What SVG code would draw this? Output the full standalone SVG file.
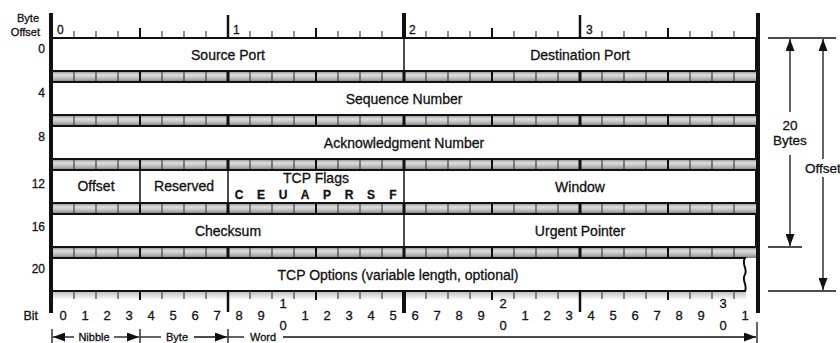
<svg xmlns="http://www.w3.org/2000/svg" xmlns:xlink="http://www.w3.org/1999/xlink" width="840" height="343" viewBox="0 0 840 343">
<defs>
<style>
text{font-family:"Liberation Sans",Arial,sans-serif;fill:#111;stroke:#111;stroke-width:0.3}
.lbl{font-size:14px;text-anchor:middle}
.sm{font-size:11px}
.rn{font-size:12px}
.off{font-size:12px;text-anchor:end}
.bit{font-size:13px;text-anchor:middle}
.row{fill:#fff;stroke:#111;stroke-width:2}
.div{stroke:#111;stroke-width:1.5}
.tb{stroke:#444;stroke-width:1.2}
.tn{stroke:#111;stroke-width:2}
.tB{stroke:#111;stroke-width:3}
.band{fill:url(#bg)}
.dim{stroke:#111;stroke-width:1.3;fill:none}
.arr{stroke:#111;stroke-width:1.3;fill:none}
</style>
<linearGradient id="bg" x1="0" y1="0" x2="0" y2="1">
<stop offset="0" stop-color="#8a8a8a"/>
<stop offset="0.35" stop-color="#dedede"/>
<stop offset="0.7" stop-color="#b8b8b8"/>
<stop offset="1" stop-color="#7a7a7a"/>
</linearGradient>
<linearGradient id="sh" x1="0" y1="0" x2="0" y2="1">
<stop offset="0" stop-color="#999"/>
<stop offset="1" stop-color="#fff"/>
</linearGradient>
<marker id="ah" viewBox="0 0 12 9" refX="12" refY="4.5" markerWidth="12" markerHeight="9" markerUnits="userSpaceOnUse" orient="auto">
<path d="M0,0 L12,4.5 L0,9 Z" fill="#111"/>
</marker>
<g id="bandTicks">
<line class="tb" x1="74" y1="0" x2="74" y2="11"/><line class="tb" x1="96" y1="0" x2="96" y2="11"/><line class="tb" x1="118" y1="0" x2="118" y2="11"/>
<line class="tn" x1="140" y1="0" x2="140" y2="11"/>
<line class="tb" x1="162" y1="0" x2="162" y2="11"/><line class="tb" x1="184" y1="0" x2="184" y2="11"/><line class="tb" x1="206" y1="0" x2="206" y2="11"/>
<line class="tB" x1="228" y1="0" x2="228" y2="11"/>
<line class="tb" x1="250" y1="0" x2="250" y2="11"/><line class="tb" x1="272" y1="0" x2="272" y2="11"/><line class="tb" x1="294" y1="0" x2="294" y2="11"/>
<line class="tn" x1="316" y1="0" x2="316" y2="11"/>
<line class="tb" x1="338" y1="0" x2="338" y2="11"/><line class="tb" x1="360" y1="0" x2="360" y2="11"/><line class="tb" x1="382" y1="0" x2="382" y2="11"/>
<line class="tB" x1="404" y1="0" x2="404" y2="11"/>
<line class="tb" x1="426" y1="0" x2="426" y2="11"/><line class="tb" x1="448" y1="0" x2="448" y2="11"/><line class="tb" x1="470" y1="0" x2="470" y2="11"/>
<line class="tn" x1="492" y1="0" x2="492" y2="11"/>
<line class="tb" x1="514" y1="0" x2="514" y2="11"/><line class="tb" x1="536" y1="0" x2="536" y2="11"/><line class="tb" x1="558" y1="0" x2="558" y2="11"/>
<line class="tB" x1="580" y1="0" x2="580" y2="11"/>
<line class="tb" x1="602" y1="0" x2="602" y2="11"/><line class="tb" x1="624" y1="0" x2="624" y2="11"/><line class="tb" x1="646" y1="0" x2="646" y2="11"/>
<line class="tn" x1="668" y1="0" x2="668" y2="11"/>
<line class="tb" x1="690" y1="0" x2="690" y2="11"/><line class="tb" x1="712" y1="0" x2="712" y2="11"/><line class="tb" x1="734" y1="0" x2="734" y2="11"/>
</g>
</defs>
<rect width="840" height="343" fill="#fff"/>

<g id="header">
<text class="sm" x="39" y="22" text-anchor="end" fill="#444" stroke="#444" stroke-width="0.15">Byte</text>
<text class="sm" x="40" y="36" text-anchor="end" fill="#444" stroke="#444" stroke-width="0.15">Offset</text>
<g id="top-ruler">
<line class="tb" x1="74" y1="31" x2="74" y2="38"/><line class="tb" x1="96" y1="31" x2="96" y2="38"/><line class="tb" x1="118" y1="31" x2="118" y2="38"/>
<line class="tn" x1="140" y1="28" x2="140" y2="38"/>
<line class="tb" x1="162" y1="31" x2="162" y2="38"/><line class="tb" x1="184" y1="31" x2="184" y2="38"/><line class="tb" x1="206" y1="31" x2="206" y2="38"/>
<line stroke="#111" stroke-width="2.5" x1="228" y1="15" x2="228" y2="38"/>
<line class="tb" x1="250" y1="31" x2="250" y2="38"/><line class="tb" x1="272" y1="31" x2="272" y2="38"/><line class="tb" x1="294" y1="31" x2="294" y2="38"/>
<line class="tn" x1="316" y1="28" x2="316" y2="38"/>
<line class="tb" x1="338" y1="31" x2="338" y2="38"/><line class="tb" x1="360" y1="31" x2="360" y2="38"/><line class="tb" x1="382" y1="31" x2="382" y2="38"/>
<line stroke="#111" stroke-width="4" x1="404" y1="13" x2="404" y2="38"/>
<line class="tb" x1="426" y1="31" x2="426" y2="38"/><line class="tb" x1="448" y1="31" x2="448" y2="38"/><line class="tb" x1="470" y1="31" x2="470" y2="38"/>
<line class="tn" x1="492" y1="28" x2="492" y2="38"/>
<line class="tb" x1="514" y1="31" x2="514" y2="38"/><line class="tb" x1="536" y1="31" x2="536" y2="38"/><line class="tb" x1="558" y1="31" x2="558" y2="38"/>
<line stroke="#111" stroke-width="2.5" x1="580" y1="15" x2="580" y2="38"/>
<line class="tb" x1="602" y1="31" x2="602" y2="38"/><line class="tb" x1="624" y1="31" x2="624" y2="38"/><line class="tb" x1="646" y1="31" x2="646" y2="38"/>
<line class="tn" x1="668" y1="28" x2="668" y2="38"/>
<line class="tb" x1="690" y1="31" x2="690" y2="38"/><line class="tb" x1="712" y1="31" x2="712" y2="38"/><line class="tb" x1="734" y1="31" x2="734" y2="38"/>
<text class="rn" x="57" y="34">0</text>
<text class="rn" x="233" y="34">1</text>
<text class="rn" x="409" y="34">2</text>
<text class="rn" x="586" y="34">3</text>
</g>
</g>

<g id="bands">
<rect class="band" x="52" y="71" width="704" height="11"/><use xlink:href="#bandTicks" y="71"/>
<rect class="band" x="52" y="115" width="704" height="11"/><use xlink:href="#bandTicks" y="115"/>
<rect class="band" x="52" y="159" width="704" height="11"/><use xlink:href="#bandTicks" y="159"/>
<rect class="band" x="52" y="203" width="704" height="11"/><use xlink:href="#bandTicks" y="203"/>
<rect class="band" x="52" y="247" width="704" height="11"/><use xlink:href="#bandTicks" y="247"/>
</g>

<g id="row0">
<rect class="row" x="52" y="38" width="704" height="33"/>
<line class="div" x1="404" y1="38" x2="404" y2="71"/>
<text class="off" x="45" y="53">0</text>
<text class="lbl" x="228" y="59.5">Source Port</text>
<text class="lbl" x="580" y="59.5">Destination Port</text>
</g>
<g id="row4">
<rect class="row" x="52" y="82" width="704" height="33"/>
<text class="off" x="45" y="97">4</text>
<text class="lbl" x="404" y="103.5">Sequence Number</text>
</g>
<g id="row8">
<rect class="row" x="52" y="126" width="704" height="33"/>
<text class="off" x="45" y="141">8</text>
<text class="lbl" x="404" y="147.5">Acknowledgment Number</text>
</g>
<g id="row12">
<rect class="row" x="52" y="170" width="704" height="33"/>
<line class="div" x1="140" y1="170" x2="140" y2="203"/>
<line class="div" x1="228" y1="170" x2="228" y2="203"/>
<line class="div" x1="404" y1="170" x2="404" y2="203"/>
<text class="off" x="45" y="188">12</text>
<text class="lbl" x="96" y="191" font-size="12.5">Offset</text>
<text class="lbl" x="184" y="191" font-size="12.5">Reserved</text>
<text class="lbl" x="316" y="183" font-size="12.5">TCP Flags</text>
<g font-size="12" font-weight="bold" text-anchor="middle">
<text x="239" y="199">C</text><text x="261" y="199">E</text><text x="283" y="199">U</text><text x="305" y="199">A</text>
<text x="327" y="199">P</text><text x="349" y="199">R</text><text x="371" y="199">S</text><text x="393" y="199">F</text>
</g>
<text class="lbl" x="580" y="191.5">Window</text>
</g>
<g id="row16">
<rect class="row" x="52" y="214" width="704" height="33"/>
<line class="div" x1="404" y1="214" x2="404" y2="247"/>
<text class="off" x="45" y="231">16</text>
<text class="lbl" x="228" y="235.5">Checksum</text>
<text class="lbl" x="580" y="235.5">Urgent Pointer</text>
</g>
<g id="row20">
<rect x="52" y="292" width="694" height="8" fill="url(#sh)" opacity="0.6"/>
<path d="M52,258 L745,258 C741,264 748,269 745,274.5 C741,280 748,285 745,291 L52,291 Z" fill="#fff" stroke="#111" stroke-width="2"/>
<text class="off" x="45" y="273">20</text>
<text class="lbl" x="398" y="279.5">TCP Options (variable length, optional)</text>
</g>

<g id="borders">
<line stroke="#111" stroke-width="4" x1="51" y1="13" x2="51" y2="313"/>
<line stroke="#111" stroke-width="4" x1="758" y1="13" x2="758" y2="313"/>
</g>

<g id="bottom-ruler">
<line class="tb" x1="74" y1="291" x2="74" y2="299"/><line class="tb" x1="96" y1="291" x2="96" y2="299"/><line class="tb" x1="118" y1="291" x2="118" y2="299"/>
<line class="tn" x1="140" y1="291" x2="140" y2="300"/>
<line class="tb" x1="162" y1="291" x2="162" y2="299"/><line class="tb" x1="184" y1="291" x2="184" y2="299"/><line class="tb" x1="206" y1="291" x2="206" y2="299"/>
<line stroke="#111" stroke-width="2.5" x1="228" y1="291" x2="228" y2="312"/>
<line class="tb" x1="250" y1="291" x2="250" y2="299"/><line class="tb" x1="272" y1="291" x2="272" y2="299"/><line class="tb" x1="294" y1="291" x2="294" y2="299"/>
<line class="tn" x1="316" y1="291" x2="316" y2="300"/>
<line class="tb" x1="338" y1="291" x2="338" y2="299"/><line class="tb" x1="360" y1="291" x2="360" y2="299"/><line class="tb" x1="382" y1="291" x2="382" y2="299"/>
<line stroke="#111" stroke-width="4" x1="404" y1="291" x2="404" y2="313"/>
<line class="tb" x1="426" y1="291" x2="426" y2="299"/><line class="tb" x1="448" y1="291" x2="448" y2="299"/><line class="tb" x1="470" y1="291" x2="470" y2="299"/>
<line class="tn" x1="492" y1="291" x2="492" y2="300"/>
<line class="tb" x1="514" y1="291" x2="514" y2="299"/><line class="tb" x1="536" y1="291" x2="536" y2="299"/><line class="tb" x1="558" y1="291" x2="558" y2="299"/>
<line stroke="#111" stroke-width="2.5" x1="580" y1="291" x2="580" y2="312"/>
<line class="tb" x1="602" y1="291" x2="602" y2="299"/><line class="tb" x1="624" y1="291" x2="624" y2="299"/><line class="tb" x1="646" y1="291" x2="646" y2="299"/>
<line class="tn" x1="668" y1="291" x2="668" y2="300"/>
<line class="tb" x1="690" y1="291" x2="690" y2="299"/><line class="tb" x1="712" y1="291" x2="712" y2="299"/><line class="tb" x1="734" y1="291" x2="734" y2="299"/>
<text x="38" y="320" font-size="12.5" text-anchor="end">Bit</text>
<text class="bit" x="63" y="320">0</text><text class="bit" x="85" y="320">1</text><text class="bit" x="107" y="320">2</text><text class="bit" x="129" y="320">3</text>
<text class="bit" x="151" y="320">4</text><text class="bit" x="173" y="320">5</text><text class="bit" x="195" y="320">6</text><text class="bit" x="217" y="320">7</text>
<text class="bit" x="239" y="320">8</text><text class="bit" x="261" y="320">9</text>
<text class="bit" x="283" y="308">1</text><text class="bit" x="283" y="330">0</text>
<text class="bit" x="305" y="320">1</text>
<text class="bit" x="327" y="320">2</text><text class="bit" x="349" y="320">3</text><text class="bit" x="371" y="320">4</text><text class="bit" x="393" y="320">5</text>
<text class="bit" x="415" y="320">6</text><text class="bit" x="437" y="320">7</text><text class="bit" x="459" y="320">8</text><text class="bit" x="481" y="320">9</text>
<text class="bit" x="503" y="308">2</text><text class="bit" x="503" y="330">0</text>
<text class="bit" x="525" y="320">1</text><text class="bit" x="547" y="320">2</text><text class="bit" x="569" y="320">3</text>
<text class="bit" x="591" y="320">4</text><text class="bit" x="613" y="320">5</text><text class="bit" x="635" y="320">6</text><text class="bit" x="657" y="320">7</text>
<text class="bit" x="679" y="320">8</text><text class="bit" x="701" y="320">9</text>
<text class="bit" x="723" y="308">3</text><text class="bit" x="723" y="330">0</text>
<text class="bit" x="745" y="320">1</text>
</g>

<g id="connectors">
<g id="scale-arrows">
<line class="arr" x1="52" y1="329" x2="52" y2="343"/>
<line class="arr" x1="140" y1="329" x2="140" y2="343"/>
<line class="arr" x1="228" y1="329" x2="228" y2="343"/>
<line class="arr" x1="757" y1="322" x2="757" y2="343"/>
<line class="arr" x1="74" y1="337" x2="53" y2="337" marker-end="url(#ah)"/>
<line class="arr" x1="114" y1="337" x2="139" y2="337" marker-end="url(#ah)"/>
<line class="arr" x1="140" y1="337" x2="161" y2="337"/>
<line class="arr" x1="194" y1="337" x2="227" y2="337" marker-end="url(#ah)"/>
<line class="arr" x1="228" y1="337" x2="244" y2="337"/>
<line class="arr" x1="283" y1="337" x2="756" y2="337" marker-end="url(#ah)"/>
</g>
<g id="dimensions">
<line class="dim" x1="768" y1="38" x2="836" y2="38"/>
<line class="dim" x1="768" y1="247" x2="802" y2="247"/>
<line class="dim" x1="768" y1="291" x2="836" y2="291"/>
<line class="dim" x1="790" y1="112" x2="790" y2="39" marker-end="url(#ah)"/>
<line class="dim" x1="790" y1="155" x2="790" y2="246" marker-end="url(#ah)"/>
<line class="dim" x1="823" y1="159" x2="823" y2="39" marker-end="url(#ah)"/>
<line class="dim" x1="823" y1="177" x2="823" y2="290" marker-end="url(#ah)"/>
</g>
</g>
<g id="scale-labels" font-size="11" text-anchor="middle">
<text x="94" y="341">Nibble</text>
<text x="177" y="341">Byte</text>
<text x="263" y="341">Word</text>
</g>
<g id="dim-labels" font-size="13.5">
<text x="790" y="130" text-anchor="middle">20</text>
<text x="790" y="145" text-anchor="middle">Bytes</text>
<text x="805" y="173">Offset</text>
</g>
</svg>
